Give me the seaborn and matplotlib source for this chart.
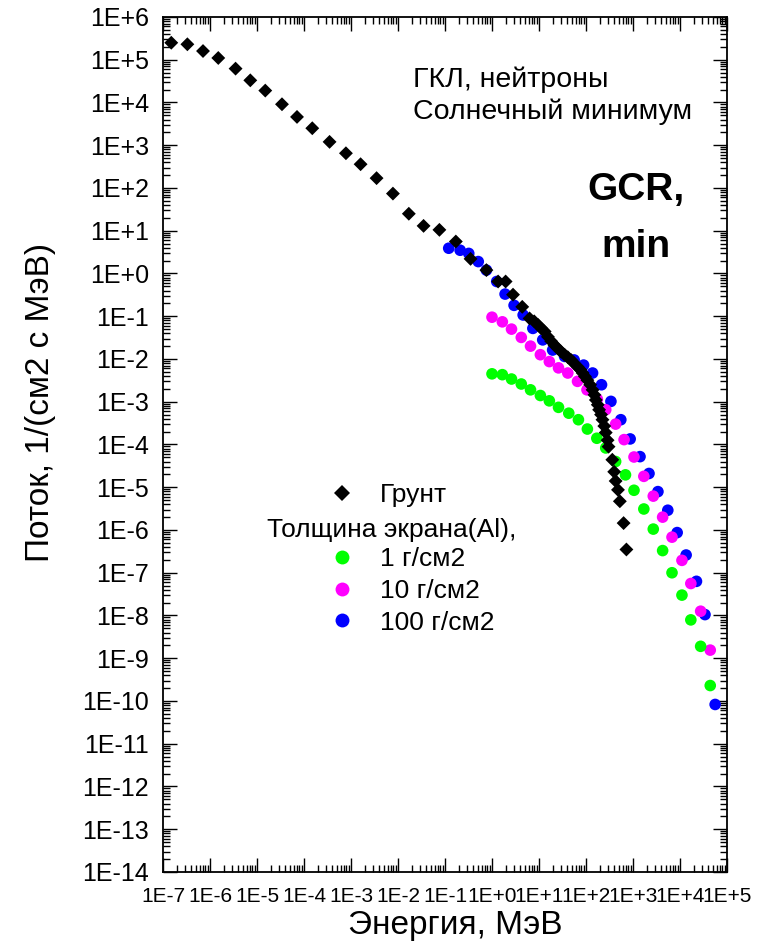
import numpy as np
import pandas as pd
import matplotlib
matplotlib.use("Agg")
import matplotlib.pyplot as plt
import matplotlib.ticker as mticker
from matplotlib.lines import Line2D
import seaborn as sns

# Грунт (ground) spectrum
soil_e = [1.5e-7, 3.3e-7, 7.1e-7, 1.5e-6, 3.5e-6, 7.2e-6, 1.5e-5, 3.4e-5, 7.1e-5, 1.5e-4,
          3.5e-4, 7.8e-4, 1.6e-3, 3.5e-3, 7.8e-3, 1.7e-2, 3.5e-2, 7.6e-2, 0.17, 0.35,
          0.76, 1.35, 1.95, 2.8, 4.4, 6.3, 7.9, 9.5, 11.2, 13.2,
          15.5, 18.2, 21.4, 25, 29.5, 35, 41, 48, 56, 66,
          76, 85, 95, 107, 123, 138, 151, 162, 178, 190,
          209, 224, 245, 263, 288, 302, 363, 398, 427, 479,
          525, 631, 724]
soil_f = [2.5e5, 2.3e5, 1.6e5, 1.1e5, 6.2e4, 3.3e4, 1.9e4, 9.1e3, 4.6e3, 2.5e3,
          1.2e3, 6.5e2, 3.6e2, 1.7e2, 74, 25, 13, 10.5, 5.6, 2.2,
          1.2, 0.65, 0.65, 0.32, 0.166, 0.089, 0.076, 0.063, 0.052, 0.044,
          0.033, 0.026, 0.021, 0.0178, 0.0148, 0.0126, 0.011, 0.0095, 0.0079, 0.0066,
          0.0056, 0.0047, 0.0039, 0.0032, 0.0025, 0.0019, 0.00145, 0.0011, 8.5e-4, 6.5e-4,
          5.0e-4, 3.8e-4, 2.7e-4, 1.9e-4, 1.26e-4, 8.9e-5, 4.4e-5, 2.3e-5, 1.4e-5, 8.7e-6,
          4.7e-6, 1.45e-6, 3.5e-7]

# shielding 1 g/cm2
al1_e = [1.0, 1.66, 2.6, 4.2, 6.6, 10.7, 16.6, 26, 43, 69, 107, 170, 263, 427,
         692, 1050, 1700, 2700, 4270, 6760, 1.1e4, 1.7e4, 2.75e4, 4.4e4]
al1_f = [4.5e-3, 4.3e-3, 3.4e-3, 2.6e-3, 1.9e-3, 1.4e-3, 1.05e-3, 7.4e-4, 5.4e-4, 3.8e-4,
         2.3e-4, 1.4e-4, 8.3e-5, 4.0e-5, 1.95e-5, 8.5e-6, 3.1e-6, 1.05e-6, 3.3e-7, 1.0e-7,
         3.0e-8, 7.9e-9, 1.9e-9, 2.3e-10]

# shielding 10 g/cm2
al10_e = [1.0, 1.66, 2.6, 4.2, 6.6, 10.7, 16.6, 26, 41, 66, 105, 174, 263, 427,
          646, 1050, 1700, 2700, 4270, 6760, 1.1e4, 1.7e4, 2.75e4, 4.4e4]
al10_f = [0.095, 0.074, 0.050, 0.032, 0.020, 0.0126, 0.0087, 0.0062, 0.0047, 0.0030,
          0.0019, 0.00115, 6.5e-4, 3.0e-4, 1.3e-4, 5.1e-5, 1.8e-5, 6.2e-6, 2.0e-6, 6.8e-7,
          1.95e-7, 5.6e-8, 1.26e-8, 1.55e-9]

# shielding 100 g/cm2
al100_e = [0.12, 0.21, 0.32, 0.51, 0.76, 1.26, 1.9, 2.95, 4.6, 7.4, 12, 19.5, 35, 56, 89,
           138, 214, 339, 550, 870, 1410, 2190, 3390, 5500, 8700, 1.35e4, 2.24e4, 3.4e4, 5.6e4]
al100_f = [3.9, 3.5, 2.95, 1.9, 1.2, 0.65, 0.33, 0.18, 0.107, 0.052, 0.028, 0.0162, 0.0115,
           0.0095, 0.0072, 0.0047, 0.0025, 0.00102, 3.8e-4, 1.35e-4, 5.2e-5, 2.1e-5, 7.9e-6,
           2.9e-6, 8.7e-7, 2.6e-7, 6.3e-8, 1.05e-8, 8.3e-11]

legend_labels = ["Грунт", "1 г/см2", "10 г/см2", "100 г/см2"]
colors = ["black", "#00ff00", "#ff00ff", "#0000ff"]

sns.set_style("ticks")
plt.rcParams["font.family"] = ["Liberation Sans", "DejaVu Sans"]
plt.rcParams["text.color"] = "black"
plt.rcParams["axes.labelcolor"] = "black"
plt.rcParams["xtick.color"] = "black"
plt.rcParams["ytick.color"] = "black"

fig = plt.figure(figsize=(7.65, 9.51), dpi=100)
ax = fig.add_axes([163 / 765, 1 - 872 / 951, 564 / 765, 855 / 951])
ax.set_xscale("log")
ax.set_yscale("log")

# draw order: blue, magenta, green, then black diamonds on top
sns.scatterplot(x=al100_e, y=al100_f, ax=ax, color=colors[3], marker="o", s=70,
                edgecolor="none", linewidth=0, legend=False)
sns.scatterplot(x=al10_e, y=al10_f, ax=ax, color=colors[2], marker="o", s=70,
                edgecolor="none", linewidth=0, legend=False)
sns.scatterplot(x=al1_e, y=al1_f, ax=ax, color=colors[1], marker="o", s=70,
                edgecolor="none", linewidth=0, legend=False)
sns.scatterplot(x=soil_e, y=soil_f, ax=ax, color=colors[0], marker="D", s=50,
                edgecolor="none", linewidth=0, legend=False)

ax.set_xlim(1e-7, 1e5)
ax.set_ylim(1e-14, 1e6)


def sci_fmt(v, pos):
    e = int(round(np.log10(v)))
    return "1E+%d" % e if e >= 0 else "1E%d" % e


for axis in (ax.xaxis, ax.yaxis):
    axis.set_major_locator(mticker.LogLocator(base=10, numticks=40))
    axis.set_minor_locator(mticker.LogLocator(base=10, subs=np.arange(2, 10), numticks=40))
    axis.set_minor_formatter(mticker.NullFormatter())
    axis.set_major_formatter(mticker.FuncFormatter(sci_fmt))

ax.tick_params(which="both", direction="in", top=True, right=True, width=1, color="black")
ax.tick_params(which="major", length=10)
ax.tick_params(which="minor", length=5)
ax.tick_params(axis="x", labelsize=15, pad=11)
ax.tick_params(axis="y", labelsize=18, pad=10)
for sp in ax.spines.values():
    sp.set_linewidth(1.3)
    sp.set_color("black")

ax.set_xlabel("Энергия, МэВ", fontsize=24)
ax.set_ylabel("Поток, 1/(см2 с МэВ)", fontsize=24)
ax.xaxis.set_label_coords(0.518, -0.045)
ax.yaxis.set_label_coords(-0.19, 0.549)

fig.text(413 / 765, 1 - 80 / 951, "ГКЛ, нейтроны", fontsize=20.5, ha="left", va="center")
fig.text(413 / 765, 1 - 112 / 951, "Солнечный минимум", fontsize=20.5, ha="left", va="center")
fig.text(636 / 765, 1 - 190 / 951, "GCR,", fontsize=28, fontweight="bold", ha="center", va="center")
fig.text(636 / 765, 1 - 247 / 951, "min", fontsize=28, fontweight="bold", ha="center", va="center")

handles = [
    Line2D([], [], marker="D", color=colors[0], linestyle="none", markersize=8, markeredgewidth=0),
    Line2D([], [], linestyle="none"),
    Line2D([], [], marker="o", color=colors[1], linestyle="none", markersize=10, markeredgewidth=0),
    Line2D([], [], marker="o", color=colors[2], linestyle="none", markersize=10, markeredgewidth=0),
    Line2D([], [], marker="o", color=colors[3], linestyle="none", markersize=10, markeredgewidth=0),
]
labels = [legend_labels[0], " ", legend_labels[1], legend_labels[2], legend_labels[3]]
fig.legend(handles, labels, loc="upper left", bbox_to_anchor=(329 / 765, 1 - 483 / 951),
           frameon=False, fontsize=19, handlelength=1.0, handletextpad=0.94,
           borderpad=0, borderaxespad=0, labelspacing=0.3)
fig.text(267 / 765, 1 - 530 / 951, "Толщина экрана(Al),", fontsize=19, ha="left", va="center")

fig.savefig("out.png", dpi=100)
